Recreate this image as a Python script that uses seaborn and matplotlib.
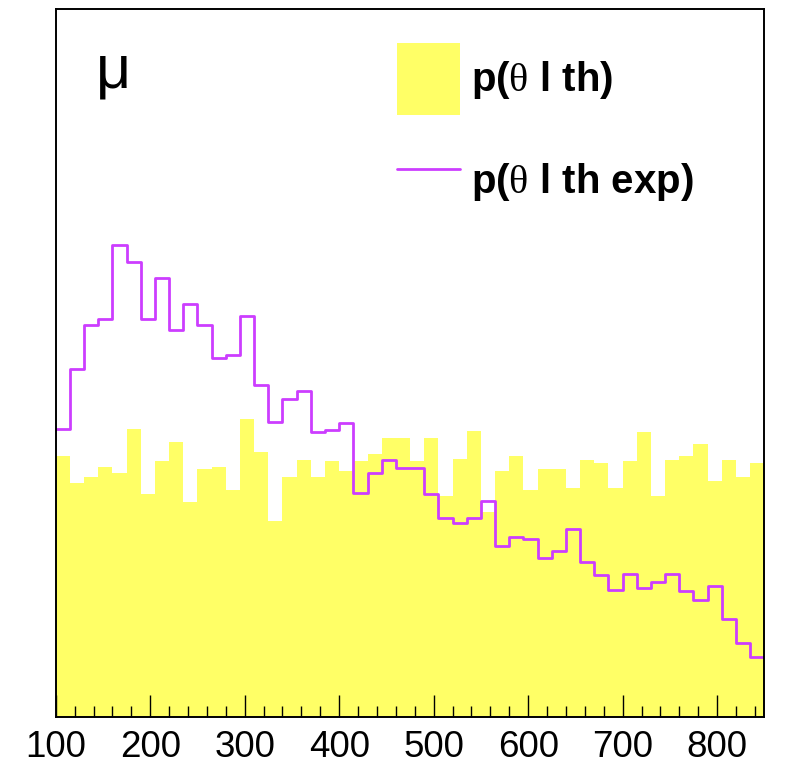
import numpy as np
import pandas as pd
import matplotlib
matplotlib.use("Agg")
import matplotlib.pyplot as plt
from matplotlib.patches import Patch
from matplotlib.lines import Line2D
from matplotlib.ticker import MultipleLocator
import seaborn as sns

# ---- data (arbitrary y units) ----
bin_edges = list(range(100, 851, 15))          # 50 bins of width 15
p_theta_th = [261, 234, 240, 250, 244, 288, 223, 256, 275, 215,
              248, 250, 227, 298, 265, 196, 240, 257, 240, 256,
              246, 256, 263, 279, 279, 256, 279, 221, 258, 286,
              205, 246, 261, 227, 248, 248, 229, 257, 254, 229,
              256, 285, 221, 257, 261, 273, 236, 257, 240, 254]
p_theta_th_exp = [288, 348, 392, 398, 472, 455, 398, 439, 387, 413,
                  392, 359, 362, 401, 332, 295, 318, 326, 285, 287,
                  294, 224, 244, 257, 249, 249, 223, 199, 194, 199,
                  216, 171, 180, 178, 159, 166, 188, 155, 142, 127,
                  143, 129, 135, 143, 126, 117, 131, 98, 74, 60]
x_ticks = [100, 200, 300, 400, 500, 600, 700, 800]
label_th = r"p($\theta$ l th)"
label_exp = r"p($\theta$ l th exp)"
panel_label = "μ"

YELLOW = "#ffff66"
MAGENTA = "#cc3dff"

centers = [(a + b) / 2 for a, b in zip(bin_edges[:-1], bin_edges[1:])]
df = pd.DataFrame({"x": centers, "th": p_theta_th, "exp": p_theta_th_exp})

sns.set_style("white")
plt.rcParams["font.family"] = ["Liberation Sans", "DejaVu Sans"]
plt.rcParams["mathtext.fontset"] = "custom"
plt.rcParams["mathtext.it"] = "Liberation Serif"
plt.rcParams["mathtext.rm"] = "Liberation Serif"
plt.rcParams["text.color"] = "black"
plt.rcParams["xtick.labelcolor"] = "black"
plt.rcParams["xtick.color"] = "black"

fig = plt.figure(figsize=(7.87, 7.68), dpi=100)
ax = fig.add_axes([0.0708, 0.066, 0.9004, 0.9219])
ax.set_axisbelow(False)

sns.histplot(data=df, x="x", weights="th", bins=bin_edges, element="step",
             fill=True, color=YELLOW, alpha=1.0, linewidth=0, ax=ax)
sns.histplot(data=df, x="x", weights="exp", bins=bin_edges, element="step",
             fill=False, color=MAGENTA, linewidth=2.0, ax=ax)

ax.set_xlim(100, 850)
ax.set_ylim(0, 708)
ax.set_xlabel("")
ax.set_ylabel("")
ax.set_yticks([])
ax.set_xticks(x_ticks)
ax.xaxis.set_minor_locator(MultipleLocator(20))
ax.tick_params(axis="x", which="major", direction="in", length=15.5, width=1.0,
               labelsize=26.5, pad=9, color="black", labelcolor="black", bottom=True)
ax.tick_params(axis="x", which="minor", direction="in", length=7.8, width=1.0,
               color="black", bottom=True)
for s in ax.spines.values():
    s.set_visible(True)
    s.set_color("black")
    s.set_linewidth(1.4)
    s.set_zorder(5)

ax.text(0.057, 0.952, panel_label, transform=ax.transAxes, fontsize=44,
        ha="left", va="top", color="black",
        family=["Liberation Sans", "DejaVu Sans"])

handles = [Patch(facecolor=YELLOW, edgecolor="none"),
           Line2D([0], [0], color=MAGENTA, lw=2.0)]
leg = ax.legend(handles, [label_th, label_exp], loc="upper left",
                bbox_to_anchor=(0.4817, 0.952), frameon=False,
                prop={"family": "Liberation Sans", "weight": "bold", "size": 29},
                handlelength=1.56, handleheight=2.35, handletextpad=0.265,
                labelspacing=0.75, borderpad=0, borderaxespad=0)
for t in leg.get_texts():
    t.set_color("black")

fig.savefig("out.png", dpi=100)
